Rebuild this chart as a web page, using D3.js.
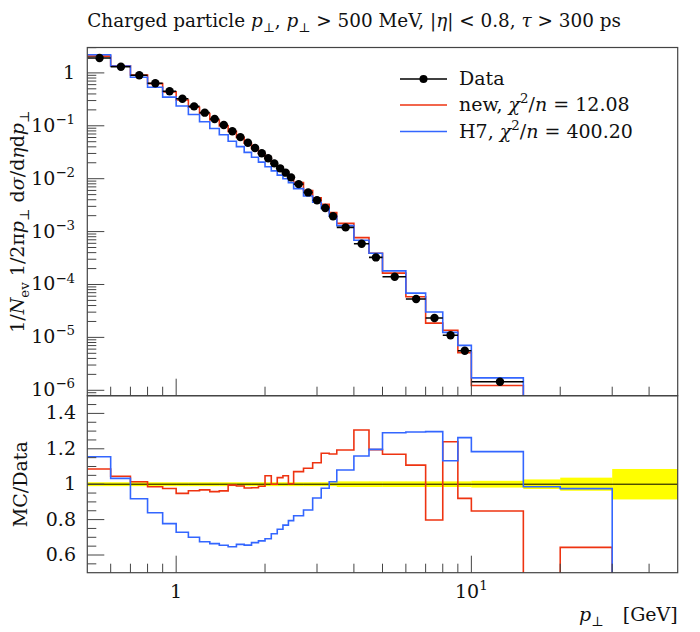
<!DOCTYPE html>
<html>
<head>
<meta charset="utf-8">
<script src="https://cdn.jsdelivr.net/npm/d3@7"></script>
<style>
  html, body { margin: 0; padding: 0; background: #fff; }
  svg { display: block; }
  text { font-family: "DejaVu Serif", "Liberation Serif", serif; fill: #111; }
</style>
</head>
<body>
<svg id="chart" width="700" height="632"></svg>
<script>
// ---------------- DATA ----------------
const binEdges = [0.5,0.6,0.7,0.8,0.9,1.0,1.1,1.2,1.3,1.4,1.5,1.6,1.7,1.8,1.9,2.0,2.1,2.2,2.3,2.4,2.5,2.7,2.9,3.1,3.3,3.5,4.0,4.5,5.0,6.0,7.0,8.0,9.0,10,15,20,30,50];

const dataVals = [1.91,1.31,0.90,0.636,0.449,0.325,0.233,0.177,0.134,0.1035,0.0787,0.0611,0.0479,0.0380,0.0303,0.0243,0.0195,0.0157,0.0130,0.0106,0.0079,0.0055,0.0039,0.0028,0.00195,0.0012,5.9e-4,3.25e-4,1.40e-4,5.3e-5,2.33e-5,1.10e-5,5.6e-6,1.45e-6,3.5e-7,9e-8,1.2e-8];

const dataRelErr = [0.011,0.011,0.011,0.011,0.011,0.011,0.011,0.011,0.011,0.011,0.011,0.011,0.011,0.011,0.011,0.011,0.011,0.011,0.011,0.011,0.011,0.011,0.011,0.011,0.011,0.016,0.016,0.016,0.016,0.016,0.016,0.016,0.016,0.019,0.027,0.037,0.086];

const newVals = [2.074,1.369,0.9126,0.6271,0.4382,0.3081,0.2244,0.1713,0.1284,0.09957,0.07831,0.06049,0.04689,0.03724,0.02994,0.02547,0.0195,0.01628,0.01362,0.01063,0.008461,0.005995,0.004372,0.00329,0.002283,0.001432,7.705e-4,3.884e-4,1.637e-4,5.872e-5,1.859e-5,1.364e-5,5.152e-6,1.231e-6,0,5.787e-8,0];

const h7Vals = [2.206,1.353,0.8262,0.5336,0.3489,0.2369,0.1631,0.1195,0.08898,0.06779,0.05092,0.04033,0.03142,0.02546,0.02060,0.01682,0.01404,0.01170,0.009997,0.008416,0.006494,0.004697,0.003596,0.002736,0.001977,0.001296,6.838e-4,3.890e-4,1.807e-4,6.864e-5,3.022e-5,1.246e-5,7.073e-6,1.717e-6,3.451e-7,8.775e-8,0];

const seriesNames = ["Data", "new", "H7"];
const chi2 = ["12.08", "400.20"];

const xMajorTicks = [1, 10];
const xMajorExp = ["", "1"];
const mainYTicks = [1e-6,1e-5,1e-4,1e-3,1e-2,1e-1,1];
const mainYExp = ["−6","−5","−4","−3","−2","−1",""];
const ratioTicks = [0.6,0.8,1.0,1.2,1.4];
const ratioLabels = ["0.6","0.8","1","1.2","1.4"];

// ---------------- LAYOUT ----------------
const L = 87.3, R = 677.7, mainTop = 47.5, mainBot = 395.7, ratioBot = 572.7;
const RED = "#ee3311", BLUE = "#3366ff", FRAME = "#444";
const svg = d3.select("#chart");

const x = d3.scaleLog().domain([0.5, 50]).range([L, R]);
const yMain = d3.scaleLog().domain([7.9e-7, 3.02]).range([mainBot, mainTop]);
const yRat = d3.scaleLinear().domain([0.5, 1.5]).range([ratioBot, mainBot]);

const defs = svg.append("defs");
defs.append("clipPath").attr("id","clipMain").append("rect")
  .attr("x", L).attr("y", mainTop).attr("width", R-L).attr("height", mainBot-mainTop);
defs.append("clipPath").attr("id","clipRat").append("rect")
  .attr("x", L).attr("y", mainBot).attr("width", R-L).attr("height", ratioBot-mainBot);

function rich(sel, segs, size) {
  let shift = 0;
  segs.forEach(s => {
    const ts = sel.append("tspan").text(s.t);
    let target = 0, fs = size;
    if (s.sub) { target = 0.28*size; fs = 0.7*size; }
    if (s.sup) { target = -0.42*size; fs = 0.7*size; }
    ts.attr("font-size", fs);
    if (target !== shift) { ts.attr("dy", target - shift); shift = target; }
    if (s.i) ts.attr("font-style", "italic");
  });
  return sel;
}

function stepPts(vals, yfn, floorVal) {
  const pts = [];
  vals.forEach((v, i) => {
    const vv = (v > 0 && isFinite(v)) ? v : floorVal;
    pts.push([x(binEdges[i]), yfn(vv)]);
    pts.push([x(binEdges[i+1]), yfn(vv)]);
  });
  return pts;
}
const line = d3.line();

// ---------------- MAIN PANEL ----------------
const gMain = svg.append("g").attr("clip-path", "url(#clipMain)");
[[newVals, RED], [h7Vals, BLUE]].forEach(([vals, col]) => {
  gMain.append("path")
    .attr("d", line(stepPts(vals, v => Math.min(yMain(v), mainBot + 50), 1e-12)))
    .attr("fill", "none").attr("stroke", col).attr("stroke-width", 1.6);
});

const gData = svg.append("g").attr("clip-path", "url(#clipMain)");
dataVals.forEach((v, i) => {
  if (v < yMain.domain()[0]) return;
  const cx = x((binEdges[i] + binEdges[i+1]) / 2);
  const cy = yMain(v);
  gData.append("line").attr("x1", x(binEdges[i])).attr("x2", x(binEdges[i+1]))
    .attr("y1", cy).attr("y2", cy).attr("stroke", "#000").attr("stroke-width", 1.6);
  gData.append("line").attr("x1", cx).attr("x2", cx)
    .attr("y1", yMain(v*(1+dataRelErr[i]))).attr("y2", yMain(v*(1-dataRelErr[i])))
    .attr("stroke", "#000").attr("stroke-width", 1.6);
  gData.append("circle").attr("cx", cx).attr("cy", cy).attr("r", 4.2).attr("fill", "#000");
});

// ---------------- RATIO PANEL ----------------
const gRat = svg.append("g").attr("clip-path", "url(#clipRat)");
dataRelErr.forEach((e, i) => {
  const x0 = x(binEdges[i]), x1 = x(binEdges[i+1]);
  gRat.append("rect").attr("x", x0).attr("width", x1 - x0 + 0.3)
    .attr("y", yRat(1 + e)).attr("height", yRat(1 - e) - yRat(1 + e))
    .attr("fill", "#ffff00");
});
gRat.append("line").attr("x1", L).attr("x2", R).attr("y1", yRat(1)).attr("y2", yRat(1))
  .attr("stroke", "#000").attr("stroke-width", 1);

[[newVals, RED], [h7Vals, BLUE]].forEach(([vals, col]) => {
  const pts = [];
  vals.forEach((v, i) => {
    const r = v / dataVals[i];
    const yy = r > 0 ? yRat(r) : ratioBot + 50;
    pts.push([x(binEdges[i]), yy]); pts.push([x(binEdges[i+1]), yy]);
  });
  gRat.append("path").attr("d", line(pts))
    .attr("fill", "none").attr("stroke", col).attr("stroke-width", 1.6);
});

// ---------------- AXES / TICKS ----------------
const gAx = svg.append("g").attr("stroke", FRAME).attr("stroke-width", 1);
const MAJ = 17, MIN = 9;
for (let k = -7; k <= 1; k++) {
  for (let m = 1; m <= 9; m++) {
    const v = m * Math.pow(10, k);
    if (v < yMain.domain()[0] || v > yMain.domain()[1]) continue;
    const yy = yMain(v);
    gAx.append("line").attr("x1", L).attr("x2", L + (m === 1 ? MAJ : MIN))
      .attr("y1", yy).attr("y2", yy);
  }
}
for (let j = 10; j <= 30; j++) {
  const v = j * 0.05;
  const isMaj = (j % 4 === 0);
  const yy = yRat(v);
  if (yy < mainBot + 0.5 || yy > ratioBot - 0.5) continue;
  gAx.append("line").attr("x1", L).attr("x2", L + (isMaj ? MAJ : MIN)).attr("y1", yy).attr("y2", yy);
}
[mainBot, ratioBot].forEach(yb => {
  for (let k = -1; k <= 1; k++) {
    for (let m = 1; m <= 9; m++) {
      const v = m * Math.pow(10, k);
      if (v <= 0.5 || v >= 50) continue;
      const xx = x(v);
      gAx.append("line").attr("x1", xx).attr("x2", xx)
        .attr("y1", yb).attr("y2", yb - (m === 1 ? MAJ : MIN));
    }
  }
});
svg.append("rect").attr("x", L).attr("y", mainTop).attr("width", R-L).attr("height", mainBot-mainTop)
  .attr("fill", "none").attr("stroke", FRAME).attr("stroke-width", 1.2);
svg.append("rect").attr("x", L).attr("y", mainBot).attr("width", R-L).attr("height", ratioBot-mainBot)
  .attr("fill", "none").attr("stroke", FRAME).attr("stroke-width", 1.2);

// ---------------- TICK LABELS ----------------
const FS = 19;
mainYTicks.forEach((v, i) => {
  const t = svg.append("text").attr("x", 75).attr("y", yMain(v) + 6).attr("text-anchor", "end").attr("font-size", FS);
  if (mainYExp[i] === "") t.text("1");
  else rich(t, [{t: "10"}, {t: mainYExp[i], sup: true}], FS);
});
ratioTicks.forEach((v, i) => {
  svg.append("text").attr("x", 76).attr("y", yRat(v) + 6).attr("text-anchor", "end")
    .attr("font-size", FS).text(ratioLabels[i]);
});
xMajorTicks.forEach((v, i) => {
  const t = svg.append("text").attr("x", x(v)).attr("y", 598).attr("text-anchor", "middle").attr("font-size", FS);
  if (xMajorExp[i] === "") t.text("1");
  else rich(t, [{t: "10"}, {t: xMajorExp[i], sup: true}], FS);
});

// ---------------- AXIS TITLES ----------------
rich(svg.append("text").attr("x", R).attr("y", 621).attr("text-anchor", "end").attr("font-size", FS),
  [{t: "p", i: true}, {t: "⊥", sub: true}, {t: "\u2003[GeV]"}], FS);

rich(svg.append("text").attr("transform", `translate(24,${(mainTop+mainBot)/2}) rotate(-90)`)
  .attr("text-anchor", "middle").attr("font-size", FS),
  [{t: "1/"}, {t: "N", i: true}, {t: "ev", sub: true}, {t: " 1/2π"}, {t: "p", i: true}, {t: "⊥", sub: true},
   {t: " d"}, {t: "σ", i: true}, {t: "/d"}, {t: "η", i: true}, {t: "d"}, {t: "p", i: true}, {t: "⊥", sub: true}], FS);

svg.append("text").attr("transform", `translate(27,${(mainBot+ratioBot)/2}) rotate(-90)`)
  .attr("text-anchor", "middle").attr("font-size", FS).text("MC/Data");

// ---------------- TITLE ----------------
const TFS = 18.4;
rich(svg.append("text").attr("x", L).attr("y", 27).attr("font-size", TFS),
  [{t: "Charged particle "}, {t: "p", i: true}, {t: "⊥", sub: true}, {t: ", "}, {t: "p", i: true}, {t: "⊥", sub: true},
   {t: " > 500 MeV, |"}, {t: "η", i: true}, {t: "| < 0.8, "}, {t: "τ", i: true}, {t: " > 300 ps"}], TFS);

// ---------------- LEGEND ----------------
const legY = [79, 105, 131.5];
const lg = svg.append("g");
lg.append("line").attr("x1", 400).attr("x2", 447).attr("y1", legY[0]).attr("y2", legY[0]).attr("stroke", "#000").attr("stroke-width", 1.6);
lg.append("circle").attr("cx", 423.5).attr("cy", legY[0]).attr("r", 4).attr("fill", "#000");
lg.append("line").attr("x1", 400).attr("x2", 447).attr("y1", legY[1]).attr("y2", legY[1]).attr("stroke", RED).attr("stroke-width", 1.6);
lg.append("line").attr("x1", 400).attr("x2", 447).attr("y1", legY[2]).attr("y2", legY[2]).attr("stroke", BLUE).attr("stroke-width", 1.6);
lg.append("text").attr("x", 459).attr("y", legY[0] + 6).attr("font-size", FS).text(seriesNames[0]);
rich(lg.append("text").attr("x", 459).attr("y", legY[1] + 6).attr("font-size", FS),
  [{t: seriesNames[1] + ", "}, {t: "χ", i: true}, {t: "2", sup: true}, {t: "/"}, {t: "n", i: true}, {t: " = " + chi2[0]}], FS);
rich(lg.append("text").attr("x", 459).attr("y", legY[2] + 6).attr("font-size", FS),
  [{t: seriesNames[2] + ", "}, {t: "χ", i: true}, {t: "2", sup: true}, {t: "/"}, {t: "n", i: true}, {t: " = " + chi2[1]}], FS);
</script>
</body>
</html>
